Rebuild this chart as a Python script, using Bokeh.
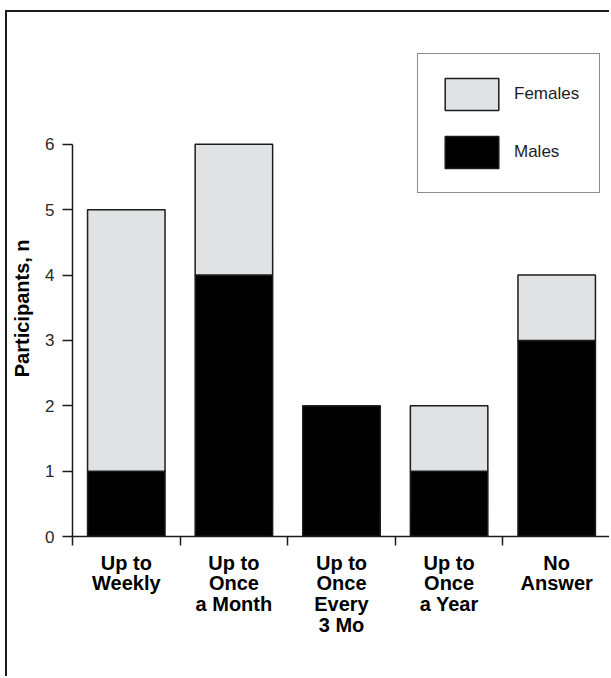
from bokeh.plotting import figure
from bokeh.models import Range1d, FixedTicker, Legend, LegendItem, ColumnDataSource
from bokeh.embed import file_html
from bokeh.resources import INLINE

# ---- data ----
categories = ["Up to\nWeekly", "Up to\nOnce\na Month", "Up to\nOnce\nEvery\n3 Mo", "Up to\nOnce\na Year", "No\nAnswer"]
males = [1, 4, 2, 1, 3]
females = [4, 2, 0, 1, 1]
y_ticks = [0, 1, 2, 3, 4, 5, 6]
y_title = "Participants, n"

x_pos = [i + 0.5 for i in range(len(categories))]
src = ColumnDataSource(dict(x=x_pos, males=males, females=females))

INK = "#1c1c1c"
FEMALE_FILL = "#e1e2e4"
FONT = "Liberation Sans"

p = figure(width=604, height=666, output_backend="svg", toolbar_location=None,
           x_range=Range1d(0, len(categories)), y_range=Range1d(0, 8),
           min_border_left=65, min_border_right=1, min_border_top=1, min_border_bottom=142)
p.margin = (10, 0, 0, 5)
p.styles = {"border-left": "2px solid #1c1c1c", "border-top": "2px solid #1c1c1c"}
p.outline_line_color = None
p.xgrid.visible = False
p.ygrid.visible = False
p.background_fill_color = "white"
p.border_fill_color = "white"

rs = p.vbar_stack(["males", "females"], x="x", width=0.72, source=src,
                  fill_color=["black", FEMALE_FILL], line_color=INK, line_width=1.5)
r_m, r_f = rs

# y axis
ya = p.yaxis[0]
ya.ticker = FixedTicker(ticks=y_ticks, minor_ticks=[])
ya.bounds = (0, 6)
ya.axis_line_color = INK
ya.axis_line_width = 1.5
ya.major_tick_line_color = INK
ya.major_tick_line_width = 1.5
ya.major_tick_out = 10
ya.major_tick_in = 0
ya.minor_tick_line_color = None
ya.major_label_text_font = FONT
ya.major_label_text_font_size = "17px"
ya.major_label_text_color = "#2a2a2a"
ya.major_label_standoff = 8
# trailing non-breaking spaces shift the centred title down beside the 0-6 axis
ya.axis_label = y_title + "\u00a0" * 12
ya.axis_label_text_font = FONT
ya.axis_label_text_font_style = "bold"
ya.axis_label_text_font_size = "20px"
ya.axis_label_text_color = "black"
ya.axis_label_standoff = 9

# x axis
xa = p.xaxis[0]
xa.ticker = FixedTicker(ticks=x_pos, minor_ticks=list(range(len(categories) + 1)))
xa.major_label_overrides = {x: c for x, c in zip(x_pos, categories)}
xa.axis_line_color = INK
xa.axis_line_width = 1.5
xa.major_tick_out = 0
xa.major_tick_in = 0
xa.major_tick_line_color = None
xa.minor_tick_line_color = INK
xa.minor_tick_line_width = 1.5
xa.minor_tick_out = 9
xa.minor_tick_in = 0
xa.major_label_text_font = FONT
xa.major_label_text_font_style = "bold"
xa.major_label_text_font_size = "20px"
xa.major_label_text_color = "black"
xa.major_label_text_line_height = 0.95
xa.major_label_standoff = 6

# legend
legend = Legend(items=[LegendItem(label="Females", renderers=[r_f]),
                       LegendItem(label="Males", renderers=[r_m])],
                location=(345, 343), glyph_width=67, glyph_height=40,
                spacing=18, padding=20, label_standoff=9,
                border_line_color=INK, border_line_width=1.5,
                label_text_font=FONT, label_text_font_size="17px",
                label_text_color=INK, background_fill_color="white", background_fill_alpha=1)
p.add_layout(legend)

open("out.html", "w").write(file_html(p, INLINE))
